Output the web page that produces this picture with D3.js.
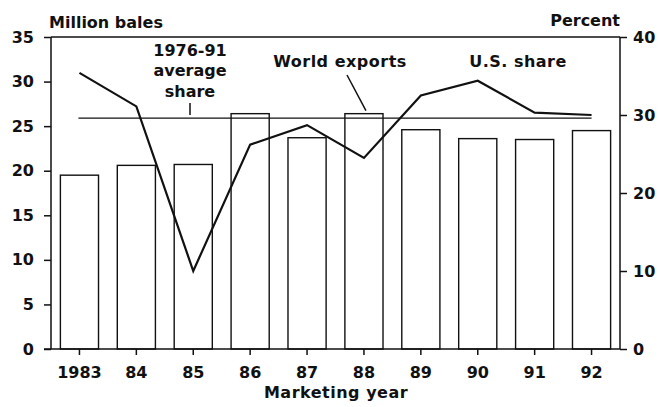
<!DOCTYPE html>
<html>
<head>
<meta charset="utf-8">
<script src="https://cdn.jsdelivr.net/npm/d3@7"></script>
<style>
  body { margin: 0; background: #fff; }
  svg text { font-family: "DejaVu Sans", sans-serif; font-weight: bold; font-size: 16px; fill: #111; }
</style>
</head>
<body>
<svg width="660" height="407"></svg>
<script>

// DATA
var years = ["1983", "84", "85", "86", "87", "88", "89", "90", "91", "92"];
var exportsMil = [19.5, 20.6, 20.7, 26.4, 23.7, 26.4, 24.6, 23.6, 23.5, 24.5];   // million bales
var usShare = [35.4, 31.1, 10.0, 26.2, 28.7, 24.5, 32.5, 34.4, 30.3, 30.0];      // percent
var avgShare = 29.6;                                                             // 1976-91 average, percent
var leftTicks = [0, 5, 10, 15, 20, 25, 30, 35];
var rightTicks = [0, 10, 20, 30, 40];

var svg = d3.select("svg");

var mLeft = 51, mRight = 620, mTop = 37, mBottom = 349;

var x = d3.scaleBand()
    .domain(years)
    .range([mLeft, mRight])
    .paddingInner(0.33)
    .paddingOuter(0.165);

var y = d3.scaleLinear().domain([0, 35]).range([mBottom, mTop]);
var y2 = d3.scaleLinear().domain([0, 40]).range([mBottom, mTop]);

var cx = function (d) { return x(d) + x.bandwidth() / 2; };

// bars
svg.append("g")
    .selectAll("rect")
    .data(exportsMil)
    .enter().append("rect")
    .attr("x", function (d, i) { return x(years[i]); })
    .attr("y", function (d) { return y(d); })
    .attr("width", x.bandwidth())
    .attr("height", function (d) { return mBottom - y(d); })
    .attr("fill", "#fff")
    .attr("stroke", "#111")
    .attr("stroke-width", 1.4);

// frame
svg.append("line")
    .attr("x1", mLeft).attr("x2", mRight)
    .attr("y1", mTop).attr("y2", mTop)
    .attr("stroke", "#111").attr("stroke-width", 1.4);

// axes
var yAxis = d3.axisLeft(y).tickValues(leftTicks).tickSize(7).tickPadding(10);
var y2Axis = d3.axisRight(y2).tickValues(rightTicks).tickSize(7).tickPadding(6);
var xAxis = d3.axisBottom(x).tickSize(6).tickPadding(8);

var gY = svg.append("g")
    .attr("transform", "translate(" + mLeft + ",0)")
    .call(yAxis);
var gY2 = svg.append("g")
    .attr("transform", "translate(" + mRight + ",0)")
    .call(y2Axis);
var gX = svg.append("g")
    .attr("transform", "translate(0," + mBottom + ")")
    .call(xAxis);

[gY, gY2, gX].forEach(function (g) {
    g.selectAll("path.domain").attr("stroke", "#111").attr("stroke-width", 1.5);
    g.selectAll(".tick line").attr("stroke", "#111").attr("stroke-width", 1.5);
    g.selectAll(".tick text")
        .style("font-family", "DejaVu Sans, sans-serif")
        .style("font-weight", "bold")
        .style("font-size", "16px")
        .attr("fill", "#111");
});
gY.select("path.domain").attr("d", "M0," + mBottom + "V" + mTop);
gY2.select("path.domain").attr("d", "M0," + mBottom + "V" + mTop);
gX.select("path.domain").attr("d", "M" + (mLeft - 7) + ",0H" + mRight);
gX.selectAll(".tick text").attr("dy", "0.95em");

// average share line
svg.append("line")
    .attr("x1", cx(years[0]) - 1).attr("x2", cx(years[years.length - 1]))
    .attr("y1", y2(avgShare)).attr("y2", y2(avgShare))
    .attr("stroke", "#111").attr("stroke-width", 1.3);

// US share line
var line = d3.line()
    .x(function (d, i) { return cx(years[i]); })
    .y(function (d) { return y2(d); });

svg.append("path")
    .datum(usShare)
    .attr("d", line)
    .attr("fill", "none")
    .attr("stroke", "#111")
    .attr("stroke-width", 2.2)
    .attr("stroke-linejoin", "miter");

// labels
svg.append("text").attr("x", 49).attr("y", 28).text("Million bales");
svg.append("text").attr("x", 620).attr("y", 26).attr("text-anchor", "end").text("Percent");

var avgLabel = svg.append("text").attr("text-anchor", "middle");
avgLabel.append("tspan").attr("x", 190).attr("y", 56).text("1976-91");
avgLabel.append("tspan").attr("x", 190).attr("y", 76).text("average");
avgLabel.append("tspan").attr("x", 190).attr("y", 97).text("share");
svg.append("line")
    .attr("x1", 190).attr("x2", 190)
    .attr("y1", 103).attr("y2", y2(avgShare) - 3)
    .attr("stroke", "#111").attr("stroke-width", 1.5);

svg.append("text").attr("x", 340).attr("y", 67).attr("text-anchor", "middle")
    .style("letter-spacing", "0.5px").text("World exports");
svg.append("line")
    .attr("x1", 347).attr("y1", 75)
    .attr("x2", cx("88") + 2).attr("y2", y(exportsMil[5]) - 3)
    .attr("stroke", "#111").attr("stroke-width", 1.5);

svg.append("text").attr("x", 518).attr("y", 67).attr("text-anchor", "middle")
    .style("letter-spacing", "0.5px").text("U.S. share");

svg.append("text").attr("x", 336).attr("y", 398).attr("text-anchor", "middle")
    .style("letter-spacing", "0.5px").text("Marketing year");

</script>
</body>
</html>
